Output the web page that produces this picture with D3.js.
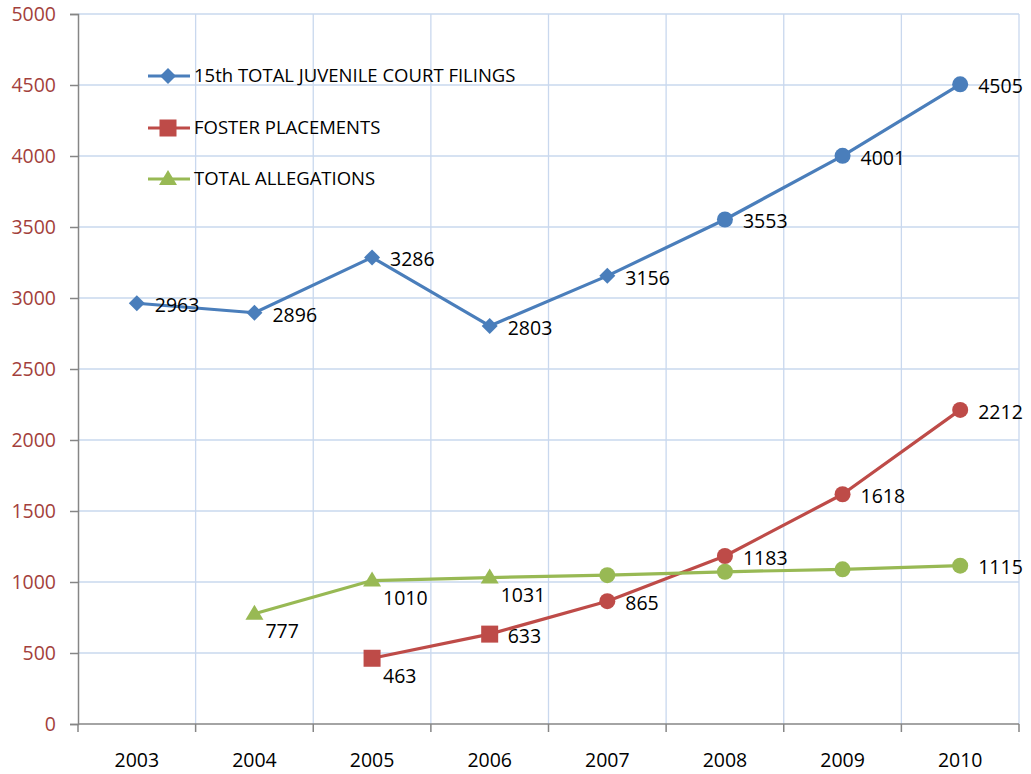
<!DOCTYPE html>
<html>
<head>
<meta charset="utf-8">
<script src="https://cdn.jsdelivr.net/npm/d3@7"></script>
<style>
  html, body { margin: 0; padding: 0; background: #fff; }
  svg { display: block; }
  text { font-family: "Open Sans", sans-serif; }
</style>
</head>
<body>
<svg id="chart" width="1031" height="774"></svg>
<script>
const years = ["2003", "2004", "2005", "2006", "2007", "2008", "2009", "2010"];
const filings = [2963, 2896, 3286, 2803, 3156, 3553, 4001, 4505];
const placements = [null, null, 463, 633, 865, 1183, 1618, 2212];
const allegations = [null, 777, 1010, 1031, 1048, 1072, 1089, 1115];
const yTicks = [0, 500, 1000, 1500, 2000, 2500, 3000, 3500, 4000, 4500, 5000];
const seriesNames = ["15th TOTAL JUVENILE COURT FILINGS", "FOSTER PLACEMENTS", "TOTAL ALLEGATIONS"];

const svg = d3.select("#chart");
const pLeft = 78, pRight = 1019, pTop = 14, pBottom = 724;
const fs = 19.5;

const x = d3.scaleBand().domain(years).range([pLeft, pRight]).padding(0);
const y = d3.scaleLinear().domain([0, 5000]).range([pBottom, pTop]);

const gridColor = "#c9d8ee";
const axisColor = "#868686";

// horizontal gridlines
svg.append("g").selectAll("line").data(yTicks.filter(d => d > 0)).join("line")
  .attr("x1", pLeft).attr("x2", pRight)
  .attr("y1", d => y(d)).attr("y2", d => y(d))
  .attr("stroke", gridColor).attr("stroke-width", 1.3);

// vertical gridlines at band boundaries
const bounds = years.map(d => x(d)).concat([x(years[years.length - 1]) + x.bandwidth()]);
svg.append("g").selectAll("line").data(bounds.slice(1)).join("line")
  .attr("x1", d => d).attr("x2", d => d)
  .attr("y1", pTop).attr("y2", pBottom)
  .attr("stroke", gridColor).attr("stroke-width", 1.3);

// y axis
const yAxis = svg.append("g").attr("transform", `translate(${pLeft},0)`)
  .call(d3.axisLeft(y).tickValues(yTicks).tickSize(8).tickPadding(14).tickFormat(d3.format("d")));
yAxis.select(".domain").attr("stroke", axisColor).attr("stroke-width", 1.5);
yAxis.selectAll(".tick line").attr("stroke", axisColor).attr("stroke-width", 1.5);
yAxis.selectAll(".tick text").attr("fill", "#a33f3c").attr("font-size", fs)
  .attr("font-family", "'Open Sans', sans-serif");

// x axis line and ticks at boundaries
svg.append("line").attr("x1", pLeft).attr("x2", pRight).attr("y1", pBottom).attr("y2", pBottom)
  .attr("stroke", axisColor).attr("stroke-width", 1.5);
svg.append("g").selectAll("line").data(bounds).join("line")
  .attr("x1", d => d).attr("x2", d => d).attr("y1", pBottom).attr("y2", pBottom + 8)
  .attr("stroke", axisColor).attr("stroke-width", 1.5);
svg.append("g").selectAll("text").data(years).join("text")
  .attr("x", d => x(d) + x.bandwidth() / 2).attr("y", 760)
  .attr("dy", "0.35em").attr("text-anchor", "middle")
  .attr("font-size", fs).attr("fill", "#000").text(d => d);

const cx = d => x(d) + x.bandwidth() / 2;

const series = [
  { name: seriesNames[0], values: filings, color: "#4a7ebb", shapes: ["diamond","diamond","diamond","diamond","diamond","circle","circle","circle"], below: [] },
  { name: seriesNames[1], values: placements, color: "#be4b48", shapes: [null,null,"square","square","circle","circle","circle","circle"], below: [2] },
  { name: seriesNames[2], values: allegations, color: "#98b954", shapes: [null,"triangle","triangle","triangle","circle","circle","circle","circle"], below: [1,2,3] }
];
const labelled = [[0,1,2,3,4,5,6,7],[2,3,4,5,6,7],[1,2,3,7]];

function drawMarker(g, shape, px, py, color) {
  if (shape === "circle") {
    g.append("circle").attr("cx", px).attr("cy", py).attr("r", 8).attr("fill", color);
  } else if (shape === "diamond") {
    g.append("path").attr("d", `M${px},${py-8}L${px+8},${py}L${px},${py+8}L${px-8},${py}Z`).attr("fill", color);
  } else if (shape === "square") {
    g.append("rect").attr("x", px - 8.5).attr("y", py - 8.5).attr("width", 17).attr("height", 17).attr("fill", color);
  } else if (shape === "triangle") {
    g.append("path").attr("d", `M${px},${py-9}L${px+9},${py+6}L${px-9},${py+6}Z`).attr("fill", color);
  }
}

series.forEach((s, si) => {
  const pts = years.map((yr, i) => ({ yr, v: s.values[i], i })).filter(d => d.v != null);
  svg.append("path").datum(pts)
    .attr("d", d3.line().x(d => cx(d.yr)).y(d => y(d.v)))
    .attr("fill", "none").attr("stroke", s.color).attr("stroke-width", 3.2)
    .attr("stroke-linejoin", "round");
  const g = svg.append("g");
  pts.forEach(d => drawMarker(g, s.shapes[d.i], cx(d.yr), y(d.v), s.color));
  pts.filter(d => labelled[si].includes(d.i)).forEach(d => {
    const isBelow = s.below.includes(d.i);
    svg.append("text")
      .attr("x", cx(d.yr) + (isBelow ? 11 : 18))
      .attr("y", y(d.v) + (isBelow ? 18 : 2))
      .attr("dy", "0.35em").attr("font-size", fs).attr("fill", "#000")
      .text(d.v);
  });
});

// legend
const lg = svg.append("g");
const legendY = [76, 128, 179];
series.forEach((s, i) => {
  const ly = legendY[i];
  lg.append("line").attr("x1", 148).attr("x2", 190).attr("y1", ly).attr("y2", ly)
    .attr("stroke", s.color).attr("stroke-width", 3.2);
  drawMarker(lg, ["diamond", "square", "triangle"][i], 168, ly, s.color);
  lg.append("text").attr("x", 194).attr("y", ly).attr("dy", "0.35em")
    .attr("font-size", 18.5).attr("fill", "#000").text(s.name);
});
</script>
</body>
</html>
